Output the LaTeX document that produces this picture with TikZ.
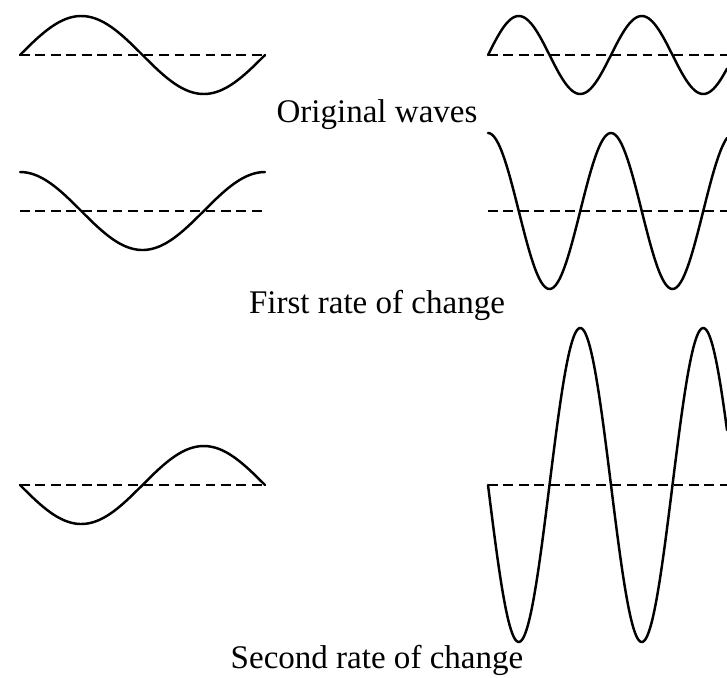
\documentclass[tikz,border=0pt]{standalone}
\usepackage{fontspec}
\setmainfont{Liberation Serif}
\usetikzlibrary{positioning}

\begin{document}
\begin{tikzpicture}[x=0.02cm, y=-0.02cm, line width=1.4pt,
    wave/.style={line join=round, line cap=round},
    axisline/.style={dash pattern=on 5.5pt off 3.3pt},
    caption/.style={font=\fontsize{18.8}{22}\selectfont, anchor=base}]
  \useasboundingbox (0,0) rectangle (727,677);

  % Original waves
  \draw[axisline] (20,55) -- (265,55);
  \draw[axisline] (488,55) -- (727,55);
  \draw[wave] plot[domain=20:265, samples=90] (\x, {55-39*sin((\x-20)/245*360)});
  \draw[wave] plot[domain=488:727, samples=160] (\x, {55-39*sin((\x-488)/123*360)});
  \node[caption] (orig) at (377,122) {Original waves};

  % First rate of change
  \draw[axisline] (20,211) -- (265,211);
  \draw[axisline] (488,211) -- (727,211);
  \draw[wave] plot[domain=20:265, samples=90] (\x, {211-39*cos((\x-20)/245*360)});
  \draw[wave] plot[domain=488:727, samples=160] (\x, {211-78*cos((\x-488)/123*360)});
  \node[caption] (first) at (377,313) {First rate of change};

  % Second rate of change
  \draw[axisline] (20,485) -- (265,485);
  \draw[axisline] (488,485) -- (727,485);
  \draw[wave] plot[domain=20:265, samples=90] (\x, {485+39*sin((\x-20)/245*360)});
  \draw[wave] plot[domain=488:727, samples=200] (\x, {485+157*sin((\x-488)/123*360)});
  \node[caption] (second) at (377,668) {Second rate of change};
\end{tikzpicture}
\end{document}
